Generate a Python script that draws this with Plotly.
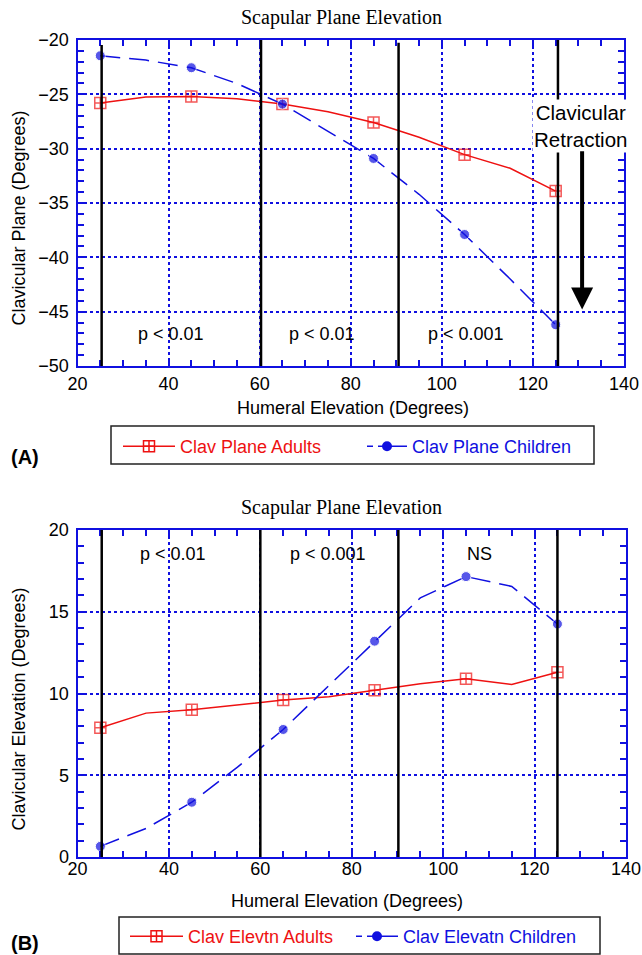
import plotly.graph_objects as go

# ---------------- data ----------------
humeral_elev = [25, 35, 45, 55, 65, 75, 85, 95, 105, 115, 125]
marker_at = [True, False, True, False, True, False, True, False, True, False, True]

clav_plane_adults = [-25.8, -25.25, -25.2, -25.4, -25.9, -26.6, -27.6, -28.95, -30.55, -31.8, -33.9]
clav_plane_children = [-21.45, -21.85, -22.55, -24.0, -25.9, -28.4, -30.9, -34.2, -37.9, -42.0, -46.2]

clav_elev_adults = [7.9, 8.8, 9.0, 9.3, 9.6, 9.8, 10.2, 10.6, 10.9, 10.55, 11.3]
clav_elev_children = [0.65, 1.75, 3.35, 5.5, 7.8, 10.5, 13.2, 15.85, 17.15, 16.55, 14.25]

boundaries_a = [25.3, 60.3, 90.5, 125.5]
boundaries_a_top = [-20.45, -20.0, -20.25, -20.0]
boundaries_b = [25.3, 60.0, 90.2, 125.0]

sig_a = ["p < 0.01", "p < 0.01", "p < 0.001"]
sig_a_x = [40.5, 73.6, 105.4]
sig_b = ["p < 0.01", "p < 0.001", "NS"]
sig_b_x = [41.0, 74.8, 108.0]

W, H = 642, 955
BLUE = "#1010e0"
RED = "#ee1111"
FONT = "Liberation Sans, Arial, sans-serif"

def px_x(p):
    return p / W

def px_y(p):
    return 1 - p / H

msize_sq = [11 if m else 0 for m in marker_at]
msize_ci = [10 if m else 0 for m in marker_at]

fig = go.Figure()

SQ = dict(symbol="square-cross-open", color=RED, line=dict(width=1.5, color=RED))
CI = dict(symbol="circle", color=BLUE)
RED_LINE = dict(color=RED, width=1.5)
BLUE_LINE = dict(color=BLUE, width=1.5, dash="20px,9px")

def add_pair(ya, yc, name_a, name_c, xaxis, yaxis, leg_a, leg_c):
    fig.add_trace(go.Scatter(
        x=humeral_elev, y=ya, mode="lines+markers", xaxis=xaxis, yaxis=yaxis,
        showlegend=False, line=RED_LINE, marker=dict(size=msize_sq, **SQ), cliponaxis=False,
    ))
    fig.add_trace(go.Scatter(
        x=humeral_elev, y=yc, mode="lines+markers", xaxis=xaxis, yaxis=yaxis,
        showlegend=False, line=BLUE_LINE, marker=dict(size=msize_ci, **CI), cliponaxis=False,
    ))
    # legend entries
    fig.add_trace(go.Scatter(
        x=[None], y=[None], mode="lines+markers", xaxis=xaxis, yaxis=yaxis,
        name=f'<span style="color:{RED}">{name_a}</span>', legend=leg_a,
        line=RED_LINE, marker=dict(size=11, **SQ),
    ))
    fig.add_trace(go.Scatter(
        x=[None], y=[None], mode="lines+markers", xaxis=xaxis, yaxis=yaxis,
        name=f'<span style="color:{BLUE}">{name_c}</span>', legend=leg_c,
        line=dict(color=BLUE, width=1.5, dash="6px,5px,60px"), marker=dict(size=10, **CI),
    ))

add_pair(clav_plane_adults, clav_plane_children,
         "Clav Plane Adults", "Clav Plane Children", "x", "y", "legend", "legend2")
add_pair(clav_elev_adults, clav_elev_children,
         "Clav Elevtn Adults", "Clav Elevatn Children", "x2", "y2", "legend3", "legend4")

def xaxis_style(domain, anchor, standoff):
    return dict(
        domain=domain, anchor=anchor, range=[20, 140], tickmode="linear", tick0=20, dtick=20,
        ticks="inside", ticklen=6, tickwidth=1.5, tickcolor=BLUE,
        minor=dict(dtick=5, tick0=20, ticks="inside", ticklen=6, tickwidth=1.5, tickcolor=BLUE, showgrid=False),
        showline=True, linecolor=BLUE, linewidth=2, mirror="allticks",
        showgrid=True, gridcolor=BLUE, griddash="dot", gridwidth=1.5,
        zeroline=False, tickfont=dict(family=FONT, size=18, color="black"),
        ticklabelstandoff=standoff, fixedrange=True,
    )

def yaxis_style(domain, anchor, rng):
    return dict(
        domain=domain, anchor=anchor, range=rng, tickmode="linear", tick0=rng[0], dtick=5,
        ticks="inside", ticklen=6, tickwidth=1.5, tickcolor=BLUE,
        minor=dict(dtick=1, tick0=rng[0], ticks="inside", ticklen=6, tickwidth=1.5, tickcolor=BLUE, showgrid=False),
        showline=True, linecolor=BLUE, linewidth=2, mirror="allticks",
        showgrid=True, gridcolor=BLUE, griddash="dot", gridwidth=1.5,
        zeroline=False, tickfont=dict(family=FONT, size=18, color="black"),
        ticklabelstandoff=3, fixedrange=True,
    )

fig.update_layout(
    xaxis=xaxis_style([px_x(77.5), px_x(624)], "y", 0),
    yaxis=yaxis_style([px_y(366), px_y(40)], "x", [-50, -20]),
    xaxis2=xaxis_style([px_x(77.5), px_x(626)], "y2", -6),
    yaxis2=yaxis_style([px_y(857), px_y(530)], "x2", [0, 20]),
)

shapes = []
for bx, top in zip(boundaries_a, boundaries_a_top):
    shapes.append(dict(type="line", xref="x", yref="y", x0=bx, x1=bx, y0=-50, y1=top,
                       line=dict(color="black", width=2.5), layer="above"))
for bx in boundaries_b:
    shapes.append(dict(type="line", xref="x2", yref="y2", x0=bx, x1=bx, y0=0, y1=20,
                       line=dict(color="black", width=2.5), layer="above"))
# legend frames
shapes.append(dict(type="rect", xref="paper", yref="paper",
                   x0=px_x(111), x1=px_x(594), y0=px_y(464), y1=px_y(426),
                   line=dict(color="#222222", width=1.5)))
shapes.append(dict(type="rect", xref="paper", yref="paper",
                   x0=px_x(119), x1=px_x(600), y0=px_y(954), y1=px_y(917),
                   line=dict(color="#222222", width=1.5)))

annotations = []
def ann(text, x, y, font, **kw):
    d = dict(text=text, x=x, y=y, showarrow=False, font=font,
             xanchor="center", yanchor="middle")
    d.update(kw)
    if "xref" not in d:
        d["xref"] = "paper"
        d["yref"] = "paper"
    annotations.append(d)

title_font = dict(family="Liberation Serif, Times New Roman, serif", size=20, color="black")
ann("Scapular Plane Elevation", px_x(341.5), px_y(17), title_font)
ann("Scapular Plane Elevation", px_x(341.5), px_y(508), title_font)

lab_font = dict(family=FONT, size=18, color="black")
ann("Humeral Elevation (Degrees)", px_x(353), px_y(408), lab_font)
ann("Humeral Elevation (Degrees)", px_x(347), px_y(901), lab_font)
ann("Clavicular Plane (Degrees)", px_x(18.5), px_y(218), lab_font, textangle=-90)
ann("Clavicular Elevation (Degrees)", px_x(18.5), px_y(709), lab_font, textangle=-90)

for t, sx in zip(sig_a, sig_a_x):
    ann(t, sx, -47.1, lab_font, xref="x", yref="y")
for t, sx in zip(sig_b, sig_b_x):
    ann(t, sx, 18.55, lab_font, xref="x2", yref="y2")

ann("Clavicular<br>Retraction", 130.5, -27.9, dict(family=FONT, size=20.5, color="black"),
    xref="x", yref="y", bgcolor="white", borderpad=1)
annotations.append(dict(text="", xref="x", yref="y", x=130.8, y=-44.8,
                        axref="x", ayref="y", ax=130.8, ay=-30.1,
                        showarrow=True, arrowhead=2, arrowsize=1.1, arrowwidth=4, arrowcolor="black",
                        standoff=0, startstandoff=0))

panel_font = dict(family=FONT, size=20, color="black")
ann("<b>(A)</b>", px_x(25), px_y(457), panel_font)
ann("<b>(B)</b>", px_x(25), px_y(943), panel_font)

def leg(x, y, iw):
    return dict(
        orientation="h", xanchor="left", yanchor="top", x=px_x(x), y=px_y(y),
        bgcolor="rgba(0,0,0,0)", borderwidth=0,
        font=dict(family=FONT, size=18), itemwidth=iw,
    )

fig.update_layout(
    width=W, height=H,
    margin=dict(l=0, r=0, t=0, b=0, autoexpand=False),
    paper_bgcolor="white", plot_bgcolor="white",
    shapes=shapes, annotations=annotations,
    showlegend=True,
    legend=leg(118, 428, 52),
    legend2=leg(362, 428, 40),
    legend3=leg(125, 918, 53),
    legend4=leg(351, 918, 42),
)

fig.write_html("out.html", config={"displayModeBar": False},
               post_script="document.body.style.margin='0';document.body.style.overflow='hidden';")
